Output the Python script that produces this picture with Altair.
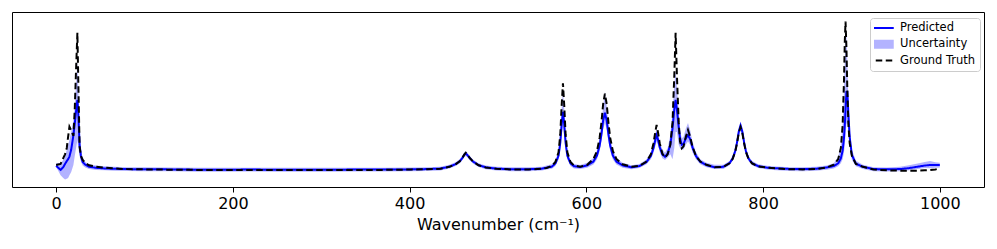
import altair as alt
import pandas as pd

# Wavenumber grid (cm^-1)
wavenumber = [0, 2, 5, 8, 10, 12, 13.5, 15, 17, 19.5, 21, 22.5, 24, 25, 26.5, 28, 30, 33, 37, 45, 55,
              65, 80, 100, 130, 160, 190, 220, 250, 280, 310, 340, 370, 400, 420, 435,
              445, 452, 457, 460, 462, 463.5, 465, 468, 472, 478, 486, 498, 515, 535, 550,
              555, 561, 565, 568.5, 570.5, 572, 573.5, 575, 576.5, 578.5, 582, 586, 593,
              601, 608, 612, 615, 617, 619, 621, 623, 625, 627, 630, 634, 641,
              651, 660, 668, 673, 676, 678, 679.5, 681, 683, 686, 689, 692, 695, 697.5, 699.5,
              701, 702.5, 704.5, 706, 708, 710, 712.5, 715, 717.5, 720, 724, 729, 736, 745, 755,
              762, 765.5, 768.5, 770.5, 772.5, 774.5, 776.5, 778.5, 780.5, 783.5, 787.5, 794.5, 804.5,
              815, 830, 845, 860, 872,
              880, 885, 888, 890, 891.5, 892.5, 893.3, 894.3, 895.3, 896.5, 898, 900.5, 905, 913,
              925, 940, 955, 965, 975, 983, 989, 995, 1000]

ground_truth = [.094, .097, .100, .137, .160, .200, .270, .333, .310, .275, .440, .690, .920, .625, .210, .150, .125, .106, .092, .083, .077,
                .072, .068, .066, .064, .063, .062, .062, .062, .062, .062, .063, .063, .065, .067, .070,
                .082, .098, .118, .142, .160, .170, .160, .138, .114, .092, .078, .070, .066, .066, .070,
                .075, .088, .113, .173, .286, .462, .605, .462, .286, .173, .113, .090, .083,
                .095, .131, .181, .263, .357, .475, .540, .475, .357, .263, .181, .131, .098,
                .083, .088, .115, .160, .230, .300, .344, .300, .230, .165, .140, .160, .220, .360, .650,
                .920, .650, .360, .240, .198, .210, .270, .3125, .270, .210, .150, .115, .095, .080, .082,
                .104, .131, .177, .229, .294, .330, .294, .229, .177, .131, .104, .085, .077,
                .072, .067, .066, .068, .078,
                .095, .130, .200, .340, .610, .870, .990, .830, .574, .350, .230, .150, .100, .082,
                .066, .060, .058, .058, .058, .060, .062, .066, .072]

predicted = [.089, .078, .063, .080, .100, .118, .130, .146, .190, .280, .350, .430, .500, .420, .220, .150, .112, .095, .083, .076, .072,
             .070, .068, .067, .066, .064, .064, .065, .064, .064, .064, .065, .065, .066, .068, .071,
             .083, .099, .118, .140, .158, .165, .158, .137, .114, .093, .079, .071, .067, .067, .071,
             .077, .083, .104, .151, .233, .345, .425, .345, .233, .151, .104, .086, .081,
             .091, .115, .153, .214, .284, .372, .420, .372, .284, .214, .153, .115, .091,
             .079, .087, .112, .150, .200, .250, .280, .255, .205, .160, .145, .165, .220, .320, .440,
             .500, .440, .330, .260, .220, .225, .260, .280, .255, .205, .150, .113, .093, .080, .082,
             .105, .134, .181, .235, .303, .340, .303, .235, .181, .134, .105, .086, .077,
             .073, .069, .068, .070, .078,
             .087, .104, .135, .183, .260, .347, .440, .550, .550, .415, .268, .156, .102, .082,
             .068, .067, .068, .074, .083, .090, .094, .094, .094]

lower = [.080, .060, .030, .012, .003, .008, .012, .030, .050, .094, .150, .200, .250, .200, .150, .115, .090, .078, .068, .063, .060,
         .058, .056, .055, .054, .052, .052, .053, .052, .052, .052, .053, .053, .054, .056, .059,
         .071, .087, .105, .126, .143, .150, .143, .124, .102, .081, .067, .059, .055, .055, .059,
         .065, .070, .088, .128, .195, .280, .340, .280, .195, .128, .088, .072, .068,
         .076, .096, .128, .180, .240, .315, .356, .315, .240, .180, .128, .096, .076,
         .067, .075, .098, .130, .170, .210, .240, .220, .175, .135, .125, .140, .160, .130, .200,
         .300, .300, .220, .200, .190, .190, .220, .240, .220, .175, .130, .098, .080, .068, .068,
         .092, .118, .160, .210, .275, .310, .275, .210, .160, .118, .092, .074, .066,
         .060, .056, .055, .057, .064,
         .072, .085, .105, .130, .170, .220, .280, .350, .360, .300, .210, .125, .085, .068,
         .055, .053, .055, .060, .068, .074, .073, .076, .078]

upper = [.106, .104, .106, .125, .150, .190, .220, .250, .300, .375, .460, .600, .740, .580, .300, .190, .140, .112, .098, .090, .085,
         .082, .080, .079, .078, .076, .076, .077, .076, .076, .076, .077, .077, .078, .080, .083,
         .095, .111, .131, .154, .173, .180, .173, .150, .126, .105, .091, .083, .079, .079, .083,
         .090, .098, .122, .180, .290, .440, .560, .440, .290, .180, .122, .100, .094,
         .108, .138, .186, .262, .350, .460, .550, .460, .350, .262, .186, .138, .108,
         .092, .100, .128, .175, .235, .290, .320, .295, .240, .190, .170, .200, .280, .420, .600,
         .680, .580, .430, .310, .260, .270, .320, .356, .310, .240, .175, .130, .107, .095, .095,
         .118, .150, .200, .260, .330, .365, .330, .260, .200, .150, .118, .098, .089,
         .084, .080, .080, .082, .090,
         .105, .145, .220, .350, .550, .750, .880, .920, .750, .500, .320, .190, .120, .095,
         .080, .078, .082, .092, .103, .112, .119, .110, .108]

x_ticks = [0, 200, 400, 600, 800, 1000]
series_names = ["Predicted", "Uncertainty", "Ground Truth"]
series_colors = ["blue", "#b3b3ff", "black"]

assert len(wavenumber) == len(ground_truth) == len(predicted) == len(lower) == len(upper)

df = pd.DataFrame({
    "wavenumber": wavenumber,
    "Predicted": predicted,
    "Ground Truth": ground_truth,
    "lower": lower,
    "upper": upper,
})

FONT = "DejaVu Sans"
DASH = [6.5, 3.5]

x_enc = alt.X(
    "wavenumber:Q",
    scale=alt.Scale(domain=[-50, 1050], nice=False, zero=False),
    axis=alt.Axis(
        values=x_ticks, format="d", title="Wavenumber (cm⁻¹)",
        titleFont=FONT, titleFontSize=16, titleFontWeight="normal", titleColor="black", titlePadding=5,
        labelFont=FONT, labelFontSize=16, labelColor="black", labelPadding=3, labelFlush=False,
        tickColor="black", tickSize=5, tickWidth=1, domain=False, grid=False,
    ),
)
y_scale = alt.Scale(domain=[-0.044, 1.05], nice=False, zero=False)

band = alt.Chart(df).mark_area(color="blue", opacity=0.3).encode(
    x=x_enc,
    y=alt.Y("lower:Q", scale=y_scale, axis=None),
    y2="upper:Q",
)

is_unc = "datum.value === 'Uncertainty'"
legend = alt.Legend(
    title=None, orient="none", legendX=858, legendY=6, direction="vertical",
    fillColor="white", strokeColor="#cccccc", cornerRadius=3, padding=4,
    labelFont=FONT, labelFontSize=11.5, labelColor="black", labelOffset=14.5,
    symbolSize=784, clipHeight=12, rowPadding=4.3,
    symbolType=alt.ExprRef(expr=f"{is_unc} ? 'M-1,-0.32H1V0.32H-1Z' : 'stroke'"),
    symbolFillColor=alt.ExprRef(expr=f"{is_unc} ? '#b3b3ff' : 'transparent'"),
    symbolStrokeWidth=alt.ExprRef(expr=f"{is_unc} ? 0 : 2"),
    symbolDash=alt.ExprRef(expr=f"datum.value === 'Ground Truth' ? [{DASH[0]}, {DASH[1]}] : [1, 0]"),
)

lines = alt.Chart(df).transform_fold(
    ["Predicted", "Ground Truth"], as_=["series", "intensity"]
).mark_line(strokeWidth=2).encode(
    x=x_enc,
    y=alt.Y("intensity:Q", scale=y_scale, axis=None),
    color=alt.Color("series:N", scale=alt.Scale(domain=series_names, range=series_colors), legend=legend),
    strokeDash=alt.StrokeDash("series:N", scale=alt.Scale(domain=series_names, range=[[1, 0], [1, 0], DASH]), legend=None),
)

chart = alt.layer(band, lines).properties(
    width=972, height=175,
    padding={"left": 4, "top": 4, "right": 5, "bottom": 5},
).configure(
    font=FONT,
    view=alt.ViewConfig(stroke="black", strokeWidth=1),
)

chart.save("out.html", embed_options={"renderer": "svg", "actions": False})
